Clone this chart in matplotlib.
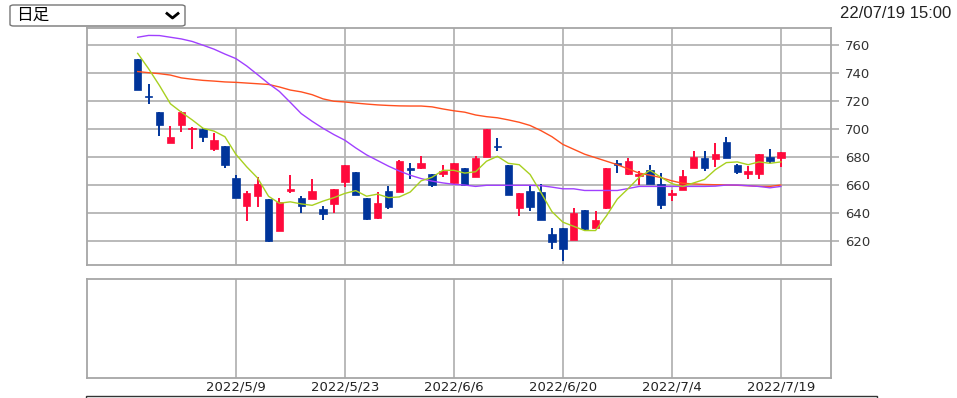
import matplotlib.pyplot as plt
import numpy as np
from matplotlib.patches import FancyBboxPatch, Rectangle
from matplotlib.lines import Line2D

# daily candles 2022/4/20 .. 2022/7/19
opens = [750, 723.5, 712, 690, 703, 700, 700, 686, 688, 665, 645, 652, 650, 627, 656,
         650.5, 650, 643, 646.5, 662, 669, 650.5, 636.5, 656, 655, 672, 672, 668, 668, 661.5,
         672, 666, 680, 688, 674, 643.5, 655.5, 655, 625, 629, 621, 642.5, 629.5, 643.5, 675.5,
         668, 666.5, 670.5, 661, 653, 656.5, 672.5, 679, 678.5, 690.5, 674.5, 668, 668, 680, 679]
closes = [728, 722.5, 703, 694, 712, 701, 694, 692, 674, 651, 654, 661, 620, 648, 657,
          645, 656, 639, 657, 674, 653, 636, 647, 644, 677, 671, 675.5, 660, 670, 676,
          660, 679, 700, 687, 653, 654, 644, 635, 619.5, 614, 640, 628.5, 635, 672, 674.5,
          677, 668, 661, 646, 654, 666.5, 680, 672.5, 682.5, 679.5, 669, 670, 682, 677, 683.5]
highs = [750, 732, 712, 702, 713, 701.5, 700.5, 697, 688, 667, 656, 666, 650, 651, 667,
         652.5, 664, 645, 657.5, 674.5, 669, 650.5, 655, 659, 678, 676, 681, 668, 674, 676,
         672, 680.5, 700, 693.5, 674, 654, 660, 660.5, 629, 629, 643.5, 642.5, 641.5, 672.5, 678,
         679, 670, 674, 668.5, 656.5, 671, 684, 684, 690, 694, 675, 673.5, 682, 685.5, 683.5]
lows = [728, 718, 695, 690, 697.5, 685.5, 691, 684.5, 672, 651, 634, 644, 619.5, 627, 654,
        640, 650, 635, 640, 658.5, 653, 635, 636, 643, 655, 664.5, 671.5, 658.5, 666, 661,
        659.5, 665.5, 680, 684, 653, 638, 641.5, 635, 614.5, 606, 621, 627, 629, 643, 668.5,
        667.5, 660, 661, 643, 648.5, 656.5, 672.5, 670, 673, 679.5, 668, 664, 664, 675.5, 673]

# moving averages
ma_short = [754, 743, 731, 718, 712, 706.5, 700.5, 698.5, 694.5, 682, 673, 665, 652, 647, 648,
            646.5, 645.5, 648.5, 651, 654, 656, 652, 653.5, 651, 651.5, 655, 663, 665.5, 670.5, 670.5,
            668.5, 669.5, 677, 680.5, 675.5, 674.5, 667.5, 654.5, 641, 633.5, 630.5, 627.5, 627.5, 638, 650,
            657.5, 665.5, 670.5, 665.5, 661, 659, 661.5, 664, 671, 676, 676.5, 674.5, 676.5, 675.5, 676.5]
ma_mid = [765.5, 766.8, 766.7, 765.5, 764.3, 762.5, 759.8, 757, 753.5, 750.3, 745, 738.8, 732.5, 726.8, 719,
          711, 705.5, 700.5, 696, 692, 686.5, 681.5, 677.5, 673.5, 670, 667, 664.6, 662.8, 661.5, 660.5,
          660, 659, 659.8, 659.8, 659.8, 659.8, 659.8, 659.5, 658.5, 657.3, 657.3, 656.1, 656.1, 656.1, 656.1,
          657.5, 659, 659, 659, 659, 659, 659, 659, 659.2, 660, 660, 659.5, 659, 658, 659]
ma_long = [741, 740.2, 739.5, 738.5, 736.5, 735.5, 734.7, 734.2, 733.6, 733.3, 732.8, 732.3, 731.8, 730, 727.8,
           726.5, 724.5, 721.5, 719.8, 719.3, 718.5, 717.8, 717.2, 716.8, 716.5, 716.4, 716.4, 715.8, 714.3, 713,
           712, 710, 708.8, 708, 706.5, 704.8, 702.5, 698.8, 694.5, 689, 685.5, 682, 679.5, 677, 674.5,
           671.5, 668.5, 667, 665.3, 663, 661.2, 660.8, 660.4, 660.2, 660, 659.8, 659.5, 659, 659, 660]

tick_pos = [9, 19, 29, 39, 49, 59]
tick_labels = ['2022/5/9', '2022/5/23', '2022/6/6', '2022/6/20', '2022/7/4', '2022/7/19']
yticks = [620, 640, 660, 680, 700, 720, 740, 760]

UP = '#ff0a3c'
DOWN = '#00349a'
GRID = '#b4b4b4'

W, H = 957, 398
fig = plt.figure(figsize=(W / 100, H / 100), dpi=100)
ax = fig.add_axes([87 / W, 1 - 265 / H, 744 / W, 237 / H])
ax2 = fig.add_axes([87 / W, 1 - 378 / H, 744 / W, 99 / H])

o = np.array(opens)
c = np.array(closes)
x = np.arange(len(o))
up = c >= o
cols = np.where(up, UP, DOWN)

ax.vlines(x, lows, highs, colors=cols, lw=1.4, zorder=2)
bottom = np.minimum(o, c)
height = np.maximum(np.abs(c - o), 1.0)
ax.bar(x, height, bottom=bottom, width=0.68, color=cols, edgecolor=cols, lw=0.5, zorder=2)

ax.plot(x, ma_long, color='#ff5020', lw=1.0, zorder=3)
ax.plot(x, ma_mid, color='#a040ff', lw=1.0, zorder=3)
ax.plot(x, ma_short, color='#a8d020', lw=1.0, zorder=3)

for a in (ax, ax2):
    a.set_xlim(-4.65, 63.6)
    a.set_xticks(tick_pos)
    for s in a.spines.values():
        s.set_color('#a6a6a6')
        s.set_linewidth(1.3)
    a.grid(True, color=GRID, lw=1.3, zorder=0)
    a.set_axisbelow(True)

ax.set_ylim(602.9, 772.1)
ax.set_yticks(yticks)
ax.yaxis.tick_right()
ax.tick_params(axis='y', length=6, width=1.3, color=GRID, labelsize=9.5, labelcolor='#333333', pad=4)
ax.tick_params(axis='x', length=0, labelbottom=False)

ax2.set_ylim(0, 1)
ax2.set_yticks([])
ax2.grid(False, axis='y')
ax2.set_xticklabels(tick_labels)
ax2.tick_params(axis='x', length=0, labelsize=9.5, labelcolor='#222222', pad=2)

# top bar: period selector and timestamp
fig.add_artist(FancyBboxPatch((10 / W, 1 - 26 / H), 175 / W, 21 / H,
                              boxstyle='round,pad=0,rounding_size=0.004',
                              transform=fig.transFigure, fc='white', ec='#767676', lw=1.0))
fig.text(16 / W, 1 - 15.5 / H, '日足', family=['Noto Sans CJK JP', 'DejaVu Sans'],
         fontsize=12, va='center', ha='left', color='black')
fig.add_artist(Line2D([167 / W, 172.5 / W, 178 / W], [1 - 13.5 / H, 1 - 18 / H, 1 - 13.5 / H],
                      transform=fig.transFigure, color='black', lw=2.0))
fig.text(951 / W, 1 - 13 / H, '22/07/19 15:00', family='Liberation Sans',
         fontsize=12, va='center', ha='right', color='#222222')

# edge of the panel below, just visible at the bottom
fig.add_artist(Rectangle((86 / W, -20 / H), 791 / W, 22 / H,
                         transform=fig.transFigure, fc='none', ec='#333333', lw=1.0))

fig.savefig('out.png', dpi=100)
